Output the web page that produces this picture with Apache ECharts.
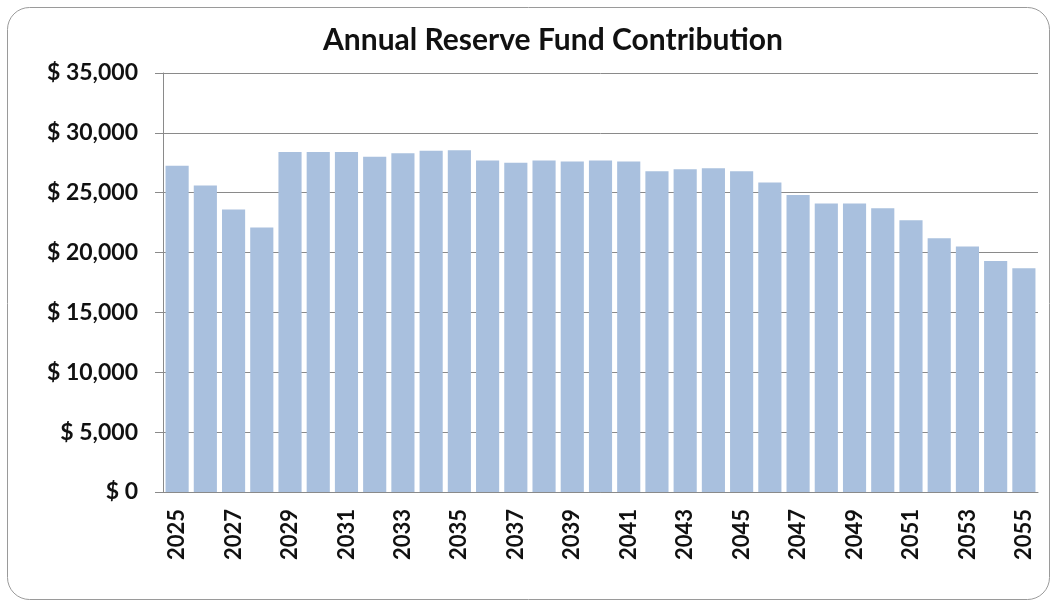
<!DOCTYPE html>
<html><head><meta charset="utf-8">
<script src="https://cdn.jsdelivr.net/npm/echarts@6/dist/echarts.min.js"></script>
<style>html,body{margin:0;padding:0;background:#fff}#c{width:1057px;height:604px}</style>
</head><body><div id="c"></div>
<script>
const titleText = 'Annual Reserve Fund Contribution';
const years = ['2025','2026','2027','2028','2029','2030','2031','2032','2033','2034','2035','2036','2037','2038','2039','2040','2041','2042','2043','2044','2045','2046','2047','2048','2049','2050','2051','2052','2053','2054','2055'];
const contributions = [27250,25600,23600,22100,28400,28400,28400,28000,28300,28500,28550,27700,27500,27700,27600,27700,27600,26800,26950,27050,26800,25850,24800,24100,24100,23700,22700,21200,20500,19300,18700];
const yTicks = [0,5000,10000,15000,20000,25000,30000,35000];

const chart = echarts.init(document.getElementById('c'), null, {renderer:'canvas'});
const font = 'Lato, "Open Sans", "DejaVu Sans", sans-serif';
chart.setOption({
  animation:false,
  title:{text:titleText,left:318,top:20,textStyle:{fontFamily:font,fontWeight:'bold',fontSize:30,color:'#111'}},
  graphic:[{type:'rect',shape:{x:7.5,y:7.5,width:1042,height:592,r:22},style:{fill:'none',stroke:'#9a9a9a',lineWidth:1},silent:true,z:-1}],
  grid:{left:163,right:19,top:73,bottom:112,containLabel:false},
  xAxis:{type:'category',data:years,
    axisLine:{lineStyle:{color:'#8a8a8a',width:1}},
    axisTick:{show:false},
    axisLabel:{interval:1,rotate:90,margin:17,fontFamily:font,fontWeight:'bold',fontSize:22,color:'#111'}},
  yAxis:{type:'value',min:yTicks[0],max:yTicks[yTicks.length-1],interval:5000,
    axisLine:{show:true,lineStyle:{color:'#8a8a8a'}},
    axisTick:{show:true,length:8,lineStyle:{color:'#8a8a8a'}},
    splitLine:{lineStyle:{color:'#8a8a8a',width:1}},
    axisLabel:{margin:25,fontFamily:font,fontWeight:'bold',fontSize:23,color:'#111',
      formatter:v=>'$ '+v.toLocaleString('en-US')}},
  series:[{type:'bar',data:contributions,barCategoryGap:'18%',itemStyle:{color:'#a9c0de'}}]
});
</script></body></html>
